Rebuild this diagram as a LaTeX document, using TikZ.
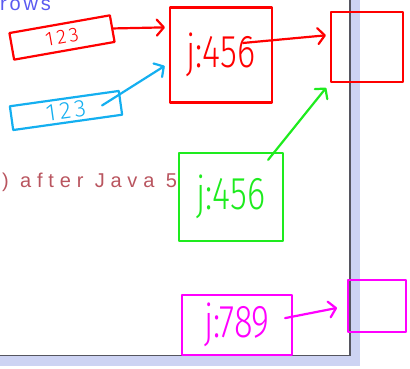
\documentclass[tikz,border=0pt]{standalone}
\usepackage{fontspec}
\setmainfont{Liberation Sans}
\newfontfamily\slidefont[LetterSpace=29]{Liberation Sans}
\newfontfamily\rowsfont[LetterSpace=14]{Liberation Sans}
\newfontfamily\handfont[FakeStretch=0.75]{Fira Sans Light}
\newfontfamily\numfont[LetterSpace=15]{Fira Sans Light}
\usepackage{tikz}
\usetikzlibrary{calc}
\usetikzlibrary{arrows.meta}

\definecolor{slideblue}{RGB}{90,90,240}
\definecolor{slidered}{RGB}{185,85,95}
\definecolor{edgeblue}{RGB}{205,211,243}
\definecolor{edgegray}{RGB}{85,85,95}
\definecolor{penred}{RGB}{255,0,0}
\definecolor{penblue}{RGB}{20,175,240}
\definecolor{pengreen}{RGB}{30,235,30}
\definecolor{penpink}{RGB}{255,0,255}

\begin{document}
\begin{tikzpicture}[x=1pt, y=1pt, node distance=150pt, auto,
		>={Straight Barb[length=7pt,width=16pt,round]},
		pen/.style={line width=2.2pt, line cap=round, line join=round},
		box/.style={pen, draw, inner sep=0pt},
		cell/.style={box, font=\numfont\fontsize{20}{20}\selectfont},
		obj/.style={box, font=\handfont\fontsize{46}{46}\selectfont},
		slidetext/.style={anchor=base west, inner sep=0pt, font=\slidefont\fontsize{20}{20}\selectfont}]
		\useasboundingbox (0,0) rectangle (410,369);
		% slide edge
		\fill[edgeblue] (0,3) rectangle (360,13);
		\fill[edgeblue] (350,3) rectangle (360,369);
		\draw[edgegray, line width=1.5pt] (0,13.5) -- (350,13.5) -- (350,369);
		\node[slidetext, text=slideblue, font=\rowsfont\fontsize{20}{20}\selectfont] (rows) at (0,358) {rows};
		\node[slidetext, text=slidered] (java) at (2,181) {) after Java 5};
		% references
		\node[cell, penred, minimum width=102pt, minimum height=27pt, rotate=10] (A) at (62,331.5) {123};
		\node[cell, penblue, minimum width=110pt, minimum height=24pt, rotate=8, font=\numfont\fontsize{24}{24}\selectfont] (D) at ($(A)+(4,-73)$) {123};
		% objects
		\node[obj, penred, minimum width=102pt, minimum height=95pt] (B) [right of=A, node distance=159pt, yshift=-17.5pt] {j:456};
		\node[box, penred, minimum width=72pt, minimum height=70pt] (C) [right of=B, node distance=146pt, yshift=8pt] {};
		\node[obj, pengreen, minimum width=104pt, minimum height=88pt] (E) [below of=B, node distance=142pt, xshift=10pt] {j:456};
		\node[obj, penpink, minimum width=110pt, minimum height=60pt] (F) [below of=E, node distance=128pt, xshift=6pt] {j:789};
		\node[box, penpink, minimum width=58pt, minimum height=52pt] (G) [right of=F, node distance=140pt, yshift=19pt] {};
		\draw[pen, penred, ->, shorten >=4pt] (A.east) to (B.152);
		\draw[pen, penred, ->, shorten >=4pt] ([xshift=-30pt]B.13) to (C.162);
		\draw[pen, penblue, ->, shorten >=5pt] ($(D.center)!.65!(D.east)$) to (B.189);
		\draw[pen, pengreen, ->, shorten >=6pt] ([xshift=-16pt,yshift=-8pt]E.north east) to (C.south west);
		\draw[pen, penpink, ->, shorten >=10pt] ([xshift=-8pt]F.7) to (G.west);
\end{tikzpicture}
\end{document}
